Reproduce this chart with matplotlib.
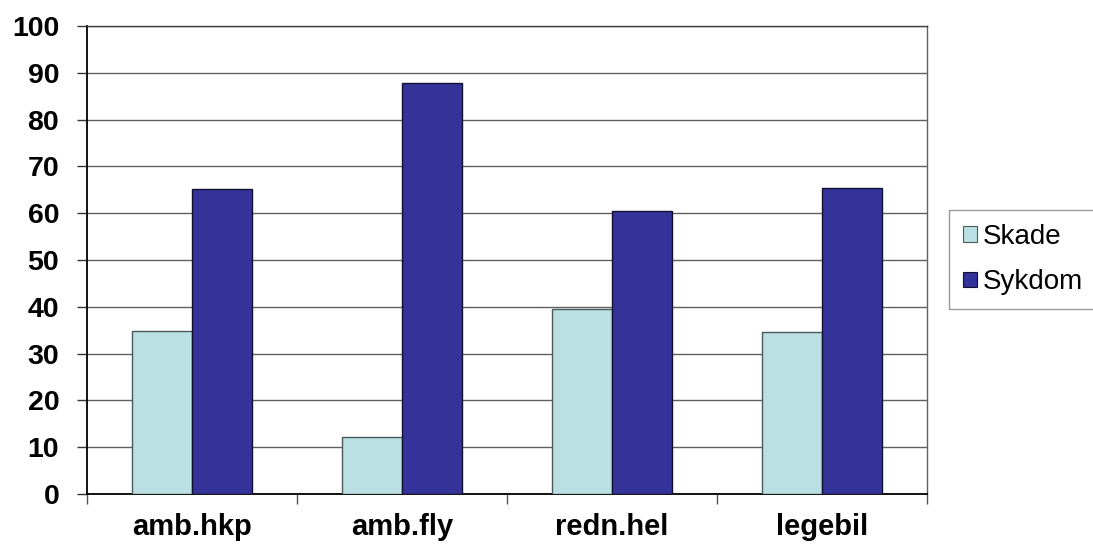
import matplotlib
matplotlib.use("Agg")
import matplotlib.pyplot as plt
from matplotlib.patches import Rectangle
import numpy as np

categories = ["amb.hkp", "amb.fly", "redn.hel", "legebil"]
skade = [34.8, 12.2, 39.6, 34.6]
sykdom = [65.2, 87.8, 60.4, 65.4]
series_names = ["Skade", "Sykdom"]
y_ticks = [0, 10, 20, 30, 40, 50, 60, 70, 80, 90, 100]

plt.rcParams["font.family"] = ["Liberation Sans", "DejaVu Sans"]

fig = plt.figure(figsize=(10.93, 5.47), dpi=100)
ax = fig.add_axes([87 / 1093, 1 - 494 / 547, (927 - 87) / 1093, (494 - 26) / 547])

x = np.arange(len(categories))
bw = 60 / 210
c_skade = "#BBE0E3"
c_syk = "#333399"

ax.bar(x - bw / 2, skade, width=bw, color=c_skade, edgecolor="#4a5a5a",
       linewidth=1.0, zorder=3)
ax.bar(x + bw / 2, sykdom, width=bw, color=c_syk, edgecolor="#101030",
       linewidth=1.0, zorder=3)

ax.set_xlim(-0.5, len(categories) - 0.5)
ax.set_ylim(0, 100)

ax.set_yticks(y_ticks)
ax.set_yticklabels([str(v) for v in y_ticks], fontsize=20.5, fontweight="bold")
ax.yaxis.grid(True, color="#606060", linewidth=1.0, zorder=0)
ax.set_axisbelow(True)

ax.set_xticks(x)
ax.set_xticklabels(categories, fontsize=21, fontweight="bold")
ax.set_xticks(np.arange(len(categories) + 1) - 0.5, minor=True)
ax.tick_params(axis="x", which="major", length=0, pad=14)
ax.tick_params(axis="x", which="minor", length=7, width=1, color="#555555", direction="out")
ax.tick_params(axis="y", length=7, width=1, color="#333333", direction="out", pad=13)

for side in ["left", "bottom"]:
    ax.spines[side].set_color("black")
    ax.spines[side].set_linewidth(1.3)
ax.spines["top"].set_color("#404040")
ax.spines["top"].set_linewidth(1.0)
ax.spines["right"].set_color("#606060")
ax.spines["right"].set_linewidth(1.0)

handles = [Rectangle((0, 0), 1, 1, facecolor=c_skade, edgecolor="#4a5a5a", linewidth=0.8),
           Rectangle((0, 0), 1, 1, facecolor=c_syk, edgecolor="#101030", linewidth=0.8)]
leg = fig.legend(handles, series_names, loc="upper left",
                 bbox_to_anchor=(949 / 1093, 1 - 210 / 547),
                 fontsize=20, frameon=True, fancybox=False, shadow=False,
                 handlelength=0.5, handleheight=0.5, handletextpad=0.2,
                 borderpad=0.5, labelspacing=0.7, borderaxespad=0)
leg.get_frame().set_edgecolor("#808080")
leg.get_frame().set_linewidth(1.0)

fig.savefig("out.png", dpi=100)
